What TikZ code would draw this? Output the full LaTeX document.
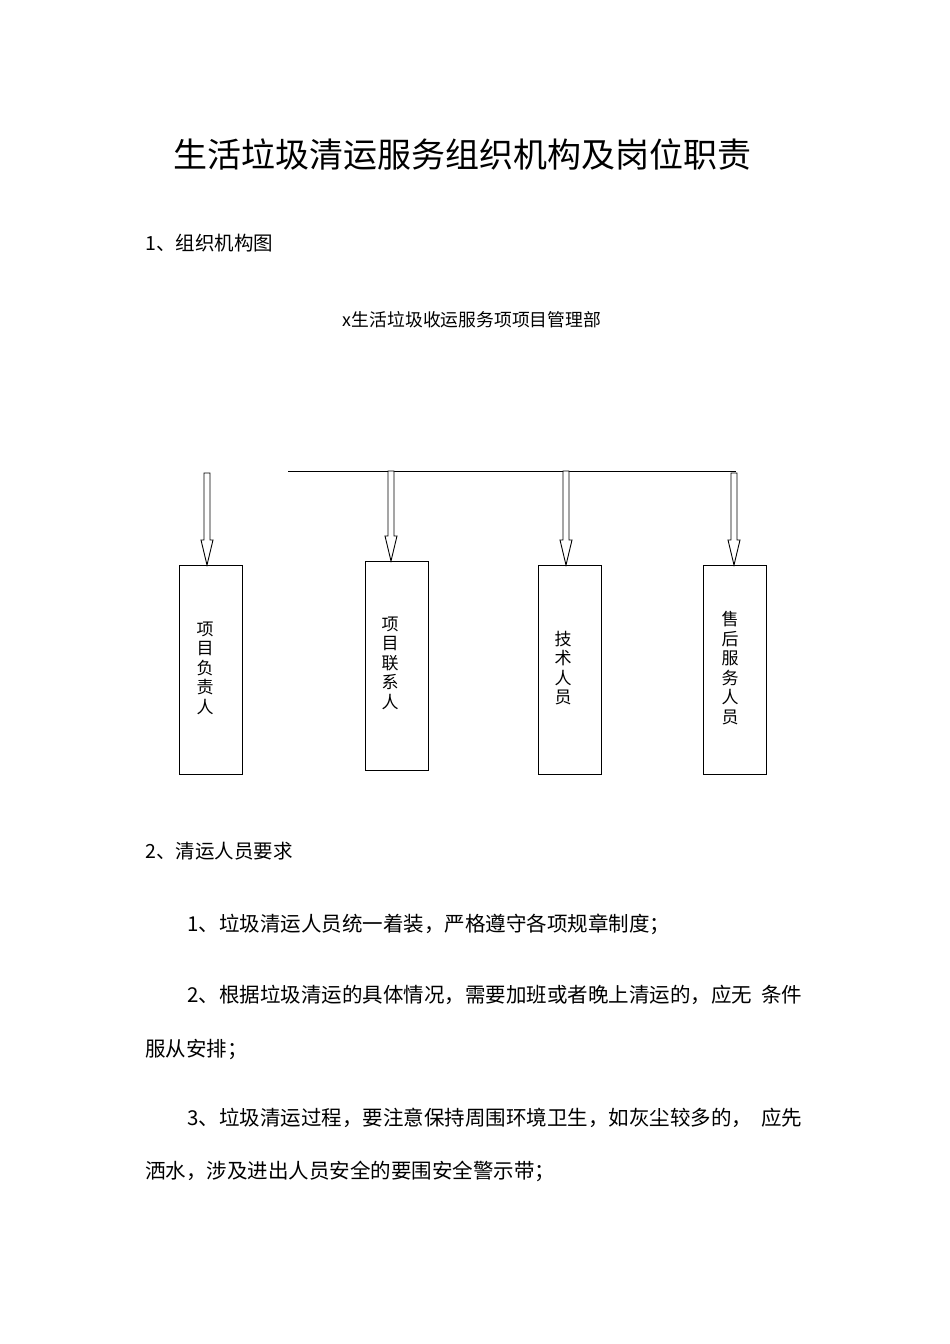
\documentclass[tikz,border=0pt]{standalone}
\usepackage{fontspec}
\setmainfont{Liberation Serif}
\newfontfamily\cjk{Noto Sans CJK SC}
\begin{document}
\begin{tikzpicture}[x=1pt,y=-1pt,
  txt/.style={inner sep=0pt,anchor=base west,font=\cjk\fontsize{19.5}{19.5}\selectfont},
  ptxt/.style={inner sep=0pt,anchor=base west,font=\cjk\fontsize{20.5}{20.5}\selectfont},
  box/.style={draw,line width=1pt,minimum width=63pt,anchor=north},
  vtxt/.style={inner sep=0pt,align=center,font=\cjk\fontsize{17}{19.5}\selectfont},
  arr/.style={draw,line width=0.9pt,fill=white}]
\useasboundingbox (0,0) rectangle (950,1344);
\node[inner sep=0pt,font=\cjk\fontsize{34}{34}\selectfont] (title) at (462,155) {生活垃圾清运服务组织机构及岗位职责};
\node[txt] (s1) at (145,250) {1、组织机构图};
\node[inner sep=0pt,font=\cjk\fontsize{17.8}{17.8}\selectfont] (top) at (472,320) {x生活垃圾收运服务项项目管理部};
\node[box,minimum height=209pt] (b1) at (210.5,565) {};
\node[box,minimum height=209pt] (b2) at (397,561) {};
\node[box,minimum height=209pt] (b3) at (570,565) {};
\node[box,minimum height=209pt] (b4) at (735,565) {};
\node[vtxt] (t1) at (205,668) {项\\目\\负\\责\\人};
\node[vtxt] (t2) at (390,663) {项\\目\\联\\系\\人};
\node[vtxt] (t3) at (563,668) {技\\术\\人\\员};
\node[vtxt] (t4) at (730,668) {售\\后\\服\\务\\人\\员};
\coordinate (L) at (288,471);
\coordinate (R) at (736,471);
\draw[line width=1pt] (L) -- (R);
\foreach \x/\ya/\yb in {207/473/565, 391/471/561, 566/471/565, 734/473/565}{
  \path[arr] (\x-3,\ya) -- (\x+3,\ya) -- (\x+3,\yb-25) -- (\x+6,\yb-25) -- (\x,\yb) -- (\x-6,\yb-25) -- (\x-3,\yb-25) -- cycle;
}
\node[txt] (s2) at (145,858) {2、清运人员要求};
\node[ptxt] (p1) at (187,931) {1、垃圾清运人员统一着装，严格遵守各项规章制度；};
\node[ptxt] (p2) at (187,1002) {2、根据垃圾清运的具体情况，需要加班或者晚上清运的，应无\ \ 条件};
\node[ptxt] (p2b) at (145,1056) {服从安排；};
\node[ptxt] (p3) at (187,1125) {3、垃圾清运过程，要注意保持周围环境卫生，如灰尘较多的，\ \ 应先};
\node[ptxt] (p3b) at (145,1178) {洒水，涉及进出人员安全的要围安全警示带；};
\end{tikzpicture}
\end{document}
